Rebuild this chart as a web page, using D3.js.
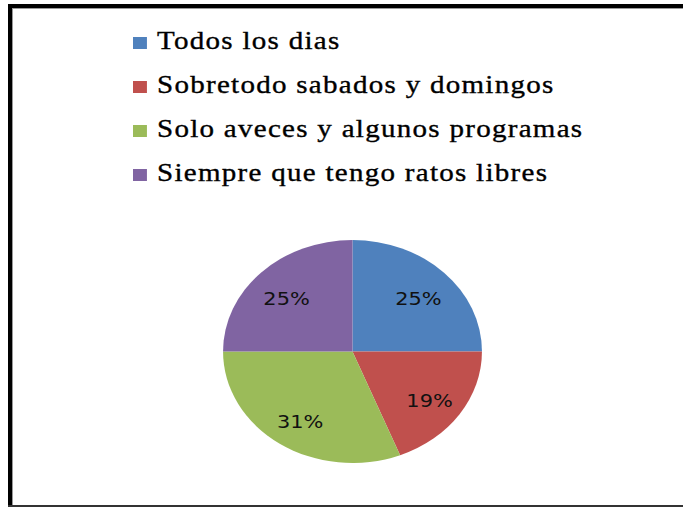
<!DOCTYPE html>
<meta charset="utf-8">
<script src="https://d3js.org/d3.v7.min.js"></script>
<style>
    body { margin: 0; background: #fff; }
    .legend text { font-family: 'Liberation Serif', 'Times New Roman', serif; font-size: 25px; letter-spacing: 1.1px; fill: #000; stroke: #000; stroke-width: 0.35px; }
    .pct { font-family: 'DejaVu Sans', Verdana, sans-serif; font-size: 18px; text-anchor: middle; fill: #111; }
</style>
<div id="chart"></div>
<script>
    // data
    let categories = ["Todos los dias", "Sobretodo sabados y domingos", "Solo aveces y algunos programas", "Siempre que tengo ratos libres"];
    let values = [25, 19, 31, 25];
    let colors = ["#4F81BD", "#C0504D", "#9BBB59", "#8064A2"];

    let width = 683, height = 508;
    let sx = 1.161; // the original picture is stretched sideways

    let svg = d3.select("#chart").append("svg")
        .attr("width", width)
        .attr("height", height);

    // frame
    svg.append("rect").attr("x", 8).attr("y", 4).attr("width", width).attr("height", 4).attr("fill", "#000");
    svg.append("rect").attr("x", 8).attr("y", 4).attr("width", 4).attr("height", 503).attr("fill", "#000");
    svg.append("rect").attr("x", 12).attr("y", 8).attr("width", width).attr("height", 1).attr("fill", "#999");
    svg.append("rect").attr("x", 12).attr("y", 8).attr("width", 1).attr("height", 497).attr("fill", "#999");
    svg.append("rect").attr("x", 8).attr("y", 505).attr("width", width).attr("height", 2).attr("fill", "#333");

    let g = svg.append("g").attr("transform", "scale(" + sx + ",1)");

    // legend
    let legend = g.append("g").attr("class", "legend")
        .selectAll("g")
        .data(categories)
        .enter().append("g")
        .attr("transform", (d, i) => "translate(0," + (49 + i * 44) + ")");

    legend.append("rect")
        .attr("x", 133 / sx)
        .attr("y", -12)
        .attr("width", 12)
        .attr("height", 12)
        .attr("fill", (d, i) => colors[i]);

    legend.append("text")
        .attr("x", 157 / sx)
        .attr("y", 0)
        .text(d => d);

    // pie
    let r = 111.5;
    let pie = d3.pie().sort(null).value(d => d);
    let arc = d3.arc().innerRadius(0).outerRadius(r);
    let labelArc = d3.arc().innerRadius(r * 0.72).outerRadius(r * 0.72);

    let pg = g.append("g").attr("transform", "translate(" + (352.5 / sx) + ",351.5)");

    let slices = pg.selectAll("g.slice")
        .data(pie(values))
        .enter().append("g")
        .attr("class", "slice");

    slices.append("path")
        .attr("d", arc)
        .attr("fill", (d, i) => colors[i]);

    slices.append("text")
        .attr("class", "pct")
        .attr("transform", d => "translate(" + labelArc.centroid(d) + ")")
        .attr("dy", "0.55em")
        .text(d => d.data + "%");
</script>
